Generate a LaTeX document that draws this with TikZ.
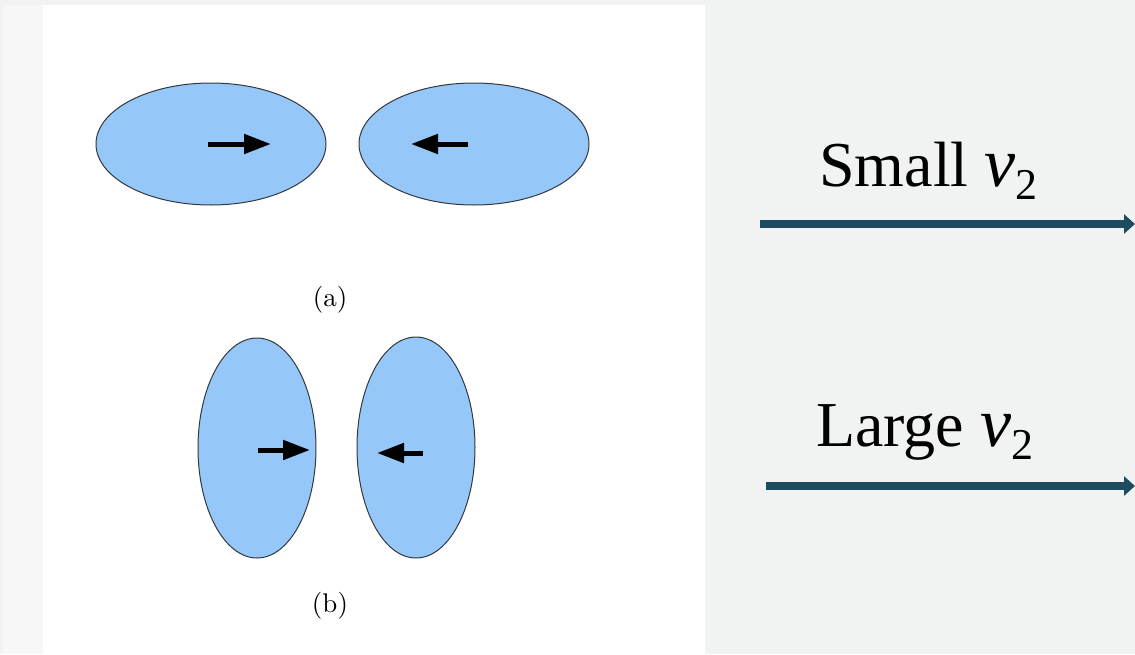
\documentclass[tikz,border=0pt]{standalone}
\usepackage{fontspec}
\newfontfamily\capfont{Liberation Serif}
\newfontfamily\labfont{lmroman10-regular.otf}
\usetikzlibrary{arrows.meta,shapes.geometric}
\definecolor{bggray}{HTML}{F1F2F2}
\definecolor{strip}{HTML}{F7F7F7}
\definecolor{blobfill}{HTML}{95C8F8}
\definecolor{blobline}{HTML}{33383F}
\definecolor{teal}{HTML}{1D4B60}
\tikzset{
  blob/.style={ellipse, draw=blobline, fill=blobfill, line width=1pt, inner sep=0pt, outer sep=0pt},
  push/.style={line width=5pt, black, -{Triangle[length=27pt,width=19pt]}},
  flow/.style={line width=8pt, teal, -{Triangle[length=11pt,width=19pt]}},
  caption/.style={font=\labfont\fontsize{27}{27}\selectfont, inner sep=0pt},
  bigtext/.style={font=\capfont\fontsize{64}{64}\selectfont, inner sep=0pt, anchor=base west}
}
\newcommand{\vsub}{{\fontsize{70}{70}\selectfont\textit{v}}\raisebox{-13pt}{\fontsize{44}{44}\selectfont 2}}
\begin{document}
\begin{tikzpicture}[x=1pt,y=-1pt]
\useasboundingbox (0,0) rectangle (1135,654);
\fill[bggray] (0,0) rectangle (1135,654);
\fill[strip] (3,5) rectangle (43,654);
\fill[white] (43,5) rectangle (705,654);
% (a)
\node[blob, minimum width=230pt, minimum height=122pt] (a1) at (211,144) {};
\node[blob, minimum width=230pt, minimum height=122pt] (a2) at (474,144) {};
\draw[push] (208,144) -- (271,144);
\draw[push] (468,144) -- (411,144);
\node[caption] (la) at (330,300) {(a)};
% (b)
\node[blob, minimum width=118pt, minimum height=220pt] (b1) at (257,448) {};
\node[blob, minimum width=118pt, minimum height=221pt] (b2) at (416,447.5) {};
\draw[push] (258,450) -- (310,450);
\draw[push] (423,453) -- (377,453);
\node[caption] (lb) at (330,606) {(b)};
% right side
\node[bigtext] (small) at (819,186) {Small \vsub};
\node[bigtext] (large) at (816,446) {Large \vsub};
\coordinate (s1) at (760,224);
\coordinate (s2) at (1135,224);
\coordinate (l1) at (766,486);
\coordinate (l2) at (1135,486);
\draw[flow] (s1) -- (s2);
\draw[flow] (l1) -- (l2);
\end{tikzpicture}
\end{document}
